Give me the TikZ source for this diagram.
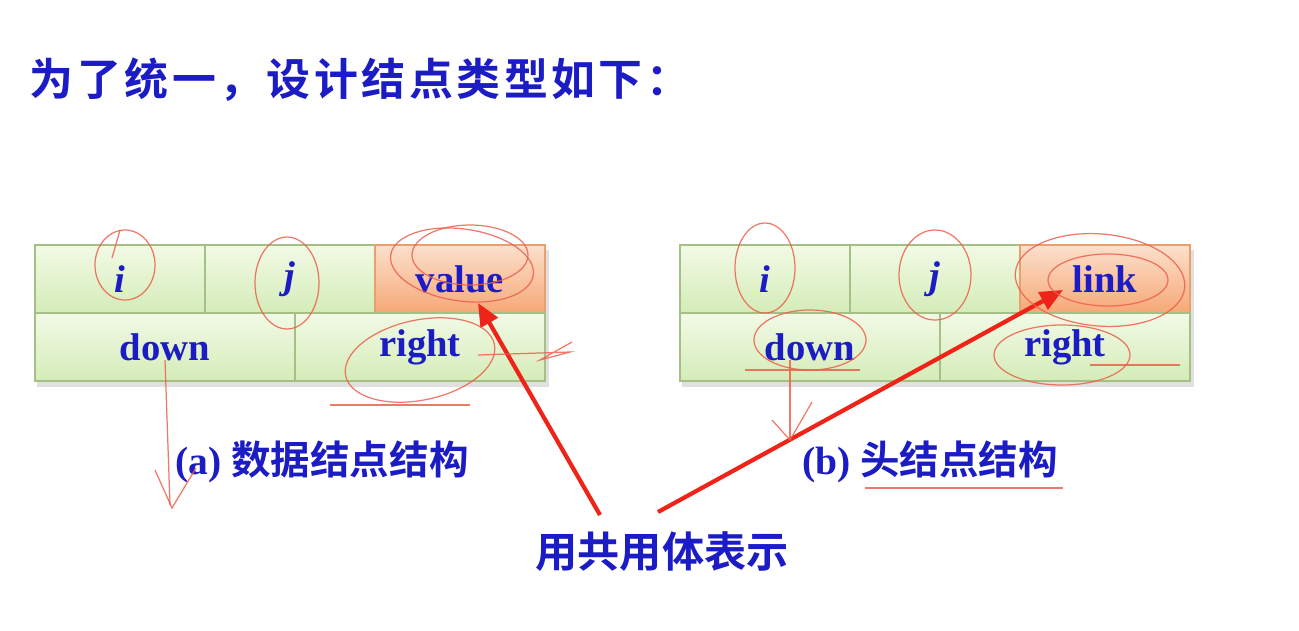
\documentclass[tikz,border=0pt]{standalone}
\usepackage{fontspec}
\setmainfont{Liberation Serif}
\newfontfamily\cjk{Noto Sans CJK SC}[BoldFont={Noto Sans CJK SC Bold}]
\newfontfamily\cjkwide{Noto Sans CJK SC}[BoldFont={Noto Sans CJK SC Bold},LetterSpace=8]
\usetikzlibrary{arrows.meta,calc}
\definecolor{ink}{RGB}{28,28,196}
\definecolor{cellgreen}{RGB}{212,236,184}
\definecolor{cellgreenlt}{RGB}{242,250,230}
\definecolor{cellline}{RGB}{165,192,135}
\definecolor{cellorange}{RGB}{246,168,118}
\definecolor{cellorangelt}{RGB}{252,224,204}
\definecolor{orangeline}{RGB}{232,160,110}
\definecolor{pen}{RGB}{238,36,24}
\definecolor{scribble}{RGB}{236,96,76}
\tikzset{
  field/.style={
    draw=cellline,line width=0.8pt,top color=cellgreenlt,bottom color=cellgreen,
    minimum height=1.36cm,inner sep=0pt,text=ink,
    font=\fontsize{22}{26}\selectfont\bfseries,
  },
  tagfield/.style={field,draw=orangeline,top color=cellorangelt,bottom color=cellorange},
  caption/.style={text=ink,inner sep=0pt,font=\fontsize{22.5}{27}\selectfont\bfseries},
  pointer/.style={draw=pen,line width=2.4pt,-{Triangle[length=13pt,width=11pt]}},
  scrawl/.style={draw=scribble,line width=0.7pt,opacity=0.85},
}
\begin{document}
\begin{tikzpicture}[x=0.02cm,y=-0.02cm]
  \useasboundingbox (0,0) rectangle (1299,630);
  % title
  \node[text=ink,inner sep=0pt,font=\fontsize{25}{30}\selectfont\cjkwide\bfseries] (title) at (360,80) {为了统一，设计结点类型如下：};
  % shadows
  \fill[black!12] (37,250) rectangle (549,387);
  \fill[black!12] (682,250) rectangle (1194,387);
  % data node
  \node[field,minimum width=3.4cm] (ai) at (120,279) {\itshape i};
  \node[field,minimum width=3.4cm] (aj) at (290,279) {\itshape j};
  \node[tagfield,minimum width=3.4cm] (avalue) at (460,279) {value};
  \node[field,minimum width=5.2cm] (adown) at (165,347) {down};
  \node[field,minimum width=5cm] (aright) at (420,347) {right};
  % head node
  \node[field,minimum width=3.4cm] (bi) at (765,279) {\itshape i};
  \node[field,minimum width=3.4cm] (bj) at (935,279) {\itshape j};
  \node[tagfield,minimum width=3.4cm] (blink) at (1105,279) {link};
  \node[field,minimum width=5.2cm] (bdown) at (810,347) {down};
  \node[field,minimum width=5cm] (bright) at (1065,347) {right};
  % captions
  \node[caption] (capa) at (322,462) {(a) {\cjk 数据结点结构}};
  \node[caption] (capb) at (930,462) {(b) {\cjk 头结点结构}};
  \node[text=ink,inner sep=0pt,font=\fontsize{24}{29}\selectfont\cjk\bfseries] (union) at (662,552) {用共用体表示};
  % arrows
  \coordinate (tailv) at (600,515);
  \coordinate (headv) at (478,303);
  \coordinate (taill) at (658,512);
  \coordinate (headl) at (1063,290);
  \draw[pointer] (tailv) -- (headv);
  \draw[pointer] (taill) -- (headl);
  % scribbles, left
  \draw[scrawl] (125,265) ellipse [x radius=30,y radius=35];
  \draw[scrawl] (112,258) -- (120,230);
  \draw[scrawl] (287,283) ellipse [x radius=32,y radius=46];
  \draw[scrawl,rotate around={-8:(462,265)}] (462,265) ellipse [x radius=72,y radius=36];
  \draw[scrawl] (470,255) ellipse [x radius=58,y radius=30];
  \draw[scrawl,rotate around={12:(420,360)}] (420,360) ellipse [x radius=76,y radius=40];
  \draw[scrawl] (330,405) -- (470,405);
  \draw[scrawl] (478,355) -- (570,352) -- (540,360) -- (572,342);
  \draw[scrawl] (165,360) -- (170,505);
  \draw[scrawl] (155,470) -- (172,508) -- (196,468);
  % scribbles, right
  \draw[scrawl] (765,268) ellipse [x radius=30,y radius=45];
  \draw[scrawl] (935,275) ellipse [x radius=36,y radius=45];
  \draw[scrawl,rotate around={-5:(1100,280)}] (1100,280) ellipse [x radius=85,y radius=46];
  \draw[scrawl] (1108,280) ellipse [x radius=60,y radius=26];
  \draw[scrawl] (810,340) ellipse [x radius=56,y radius=30];
  \draw[scrawl] (745,370) -- (860,370);
  \draw[scrawl] (1062,355) ellipse [x radius=68,y radius=30];
  \draw[scrawl] (1090,365) -- (1180,365);
  \draw[scrawl] (790,360) -- (790,440);
  \draw[scrawl] (772,420) -- (790,440) -- (812,402);
  \draw[scrawl] (865,488) -- (1063,488);
\end{tikzpicture}
\end{document}
